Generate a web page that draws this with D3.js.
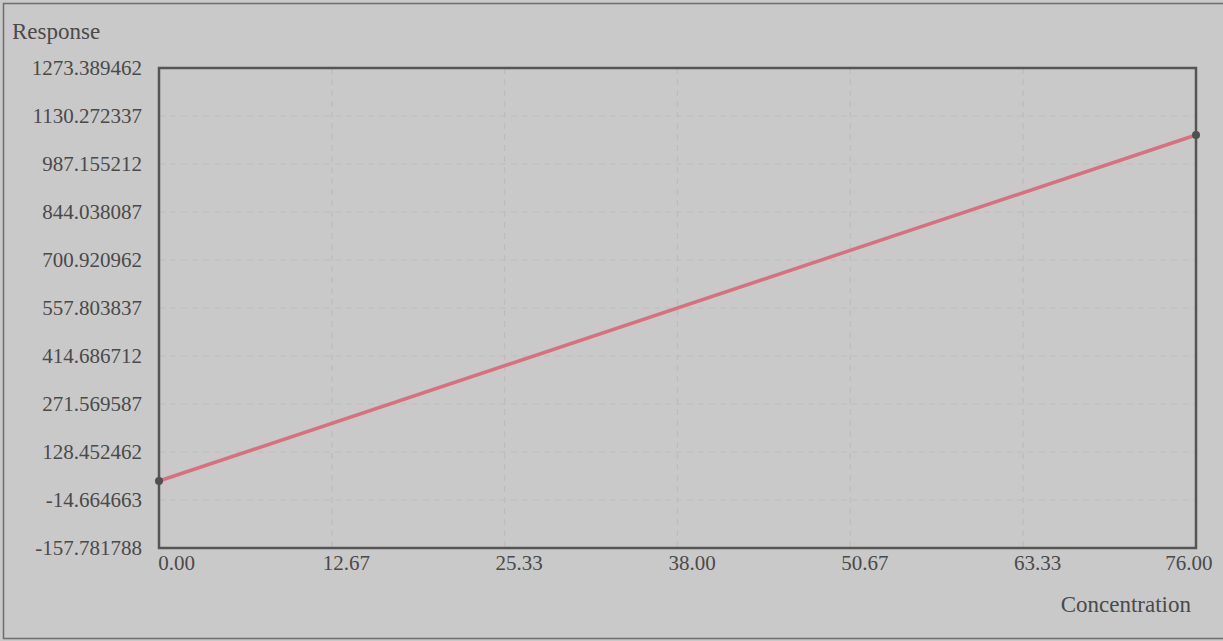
<!DOCTYPE html>
<html>
<head>
<meta charset="utf-8">
<script src="https://cdn.jsdelivr.net/npm/d3@7"></script>
<style>
  html, body { margin: 0; padding: 0; background: #c9c9c9; }
  svg { display: block; }
  text { font-family: "Liberation Serif", "DejaVu Serif", serif; fill: #4a4a4a; }
</style>
</head>
<body>
<svg id="chart" width="1223" height="641"></svg>
<script>
const concentration = [0, 76];
const response = [42.0, 1073.6];
const yTickLabels = ["-157.781788", "-14.664663", "128.452462", "271.569587", "414.686712",
  "557.803837", "700.920962", "844.038087", "987.155212", "1130.272337", "1273.389462"];
const xTickLabels = ["0.00", "12.67", "25.33", "38.00", "50.67", "63.33", "76.00"];
const yAxisTitle = "Response";
const xAxisTitle = "Concentration";

const W = 1223, H = 641;
const m = { left: 159, right: 1196, top: 68, bottom: 548 };
const svg = d3.select("#chart");

// outer frame
svg.append("rect").attr("x", 3.5).attr("y", 3.5).attr("width", W + 10).attr("height", 635)
  .attr("fill", "#c9c9c9").attr("stroke", "#6e6e6e").attr("stroke-width", 1.5);

const yVals = yTickLabels.map(Number);
const xVals = xTickLabels.map(Number);
const x = d3.scaleLinear().domain([xVals[0], xVals[xVals.length - 1]]).range([m.left, m.right]);
const y = d3.scaleLinear().domain([yVals[0], yVals[yVals.length - 1]]).range([m.bottom, m.top]);

// gridlines
const grid = svg.append("g");
grid.selectAll("line.h").data(yVals.slice(1, -1)).join("line")
  .attr("x1", m.left).attr("x2", m.right)
  .attr("y1", d => y(d)).attr("y2", d => y(d))
  .attr("stroke", "#bdbdbd").attr("stroke-width", 1.2).attr("stroke-dasharray", "6,5");
grid.selectAll("line.v").data(xVals.slice(1, -1)).join("line")
  .attr("y1", m.top).attr("y2", m.bottom)
  .attr("x1", d => x(d)).attr("x2", d => x(d))
  .attr("stroke", "#bdbdbd").attr("stroke-width", 1.2).attr("stroke-dasharray", "6,5");

// y axis labels
const yAxis = d3.axisLeft(y).tickValues(yVals).tickSize(0).tickPadding(17)
  .tickFormat((d, i) => yTickLabels[i]);
const gy = svg.append("g").attr("transform", `translate(${m.left},0)`).call(yAxis);
gy.select(".domain").remove();
gy.selectAll("text").attr("font-size", 21).style("font-family", '"Liberation Serif", serif').attr("fill", "#4a4a4a")
  .attr("dy", "0.3em");

// x axis labels
const xAxis = d3.axisBottom(x).tickValues(xVals).tickSize(0).tickPadding(4)
  .tickFormat((d, i) => xTickLabels[i]);
const gx = svg.append("g").attr("transform", `translate(0,${m.bottom})`).call(xAxis);
gx.select(".domain").remove();
gx.selectAll("text").attr("font-size", 21).style("font-family", '"Liberation Serif", serif').attr("fill", "#4a4a4a")
  .attr("dy", "0.85em")
  .attr("text-anchor", (d, i) => i === xVals.length - 1 ? "end" : "middle")
  .attr("dx", (d, i) => i === 0 ? 17 : (i === xVals.length - 1 ? 16 : 14));

// plot frame
svg.append("rect").attr("x", m.left).attr("y", m.top)
  .attr("width", m.right - m.left).attr("height", m.bottom - m.top)
  .attr("fill", "none").attr("stroke", "#555").attr("stroke-width", 2.5);

// line
const pts = concentration.map((c, i) => [c, response[i]]);
svg.append("path").datum(pts)
  .attr("d", d3.line().x(d => x(d[0])).y(d => y(d[1])))
  .attr("fill", "none").attr("stroke", "#d9707f").attr("stroke-width", 3.5);
svg.selectAll("circle.pt").data(pts).join("circle")
  .attr("cx", d => x(d[0])).attr("cy", d => y(d[1])).attr("r", 4)
  .attr("fill", "#505050");

// titles
svg.append("text").attr("x", 12).attr("y", 39).attr("font-size", 23).text(yAxisTitle);
svg.append("text").attr("x", 1191).attr("y", 612).attr("font-size", 23)
  .attr("text-anchor", "end").text(xAxisTitle);
</script>
</body>
</html>
